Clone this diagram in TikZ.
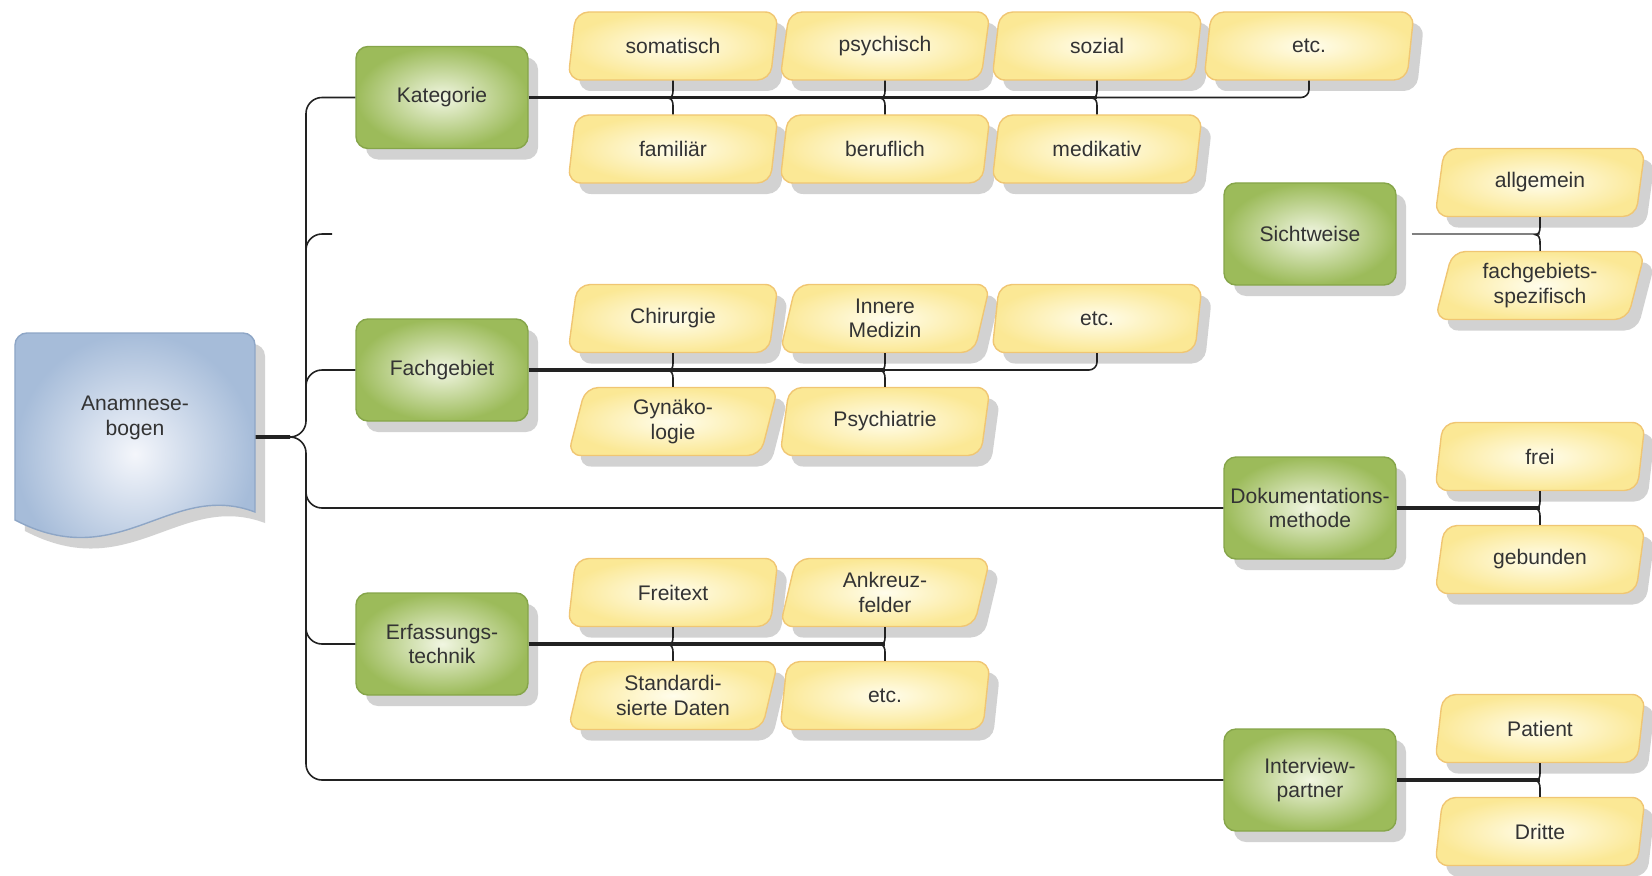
\documentclass[tikz,border=0pt]{standalone}
\usepackage{fontspec}
\setmainfont{Liberation Sans}
\usetikzlibrary{shapes.geometric,shadows}
\definecolor{gruen}{HTML}{9CBB5A}
\definecolor{gruenhell}{HTML}{F1F6E2}
\definecolor{gruenrand}{HTML}{86A54A}
\definecolor{gelb}{HTML}{FBE895}
\definecolor{gelbhell}{HTML}{FFFDEC}
\definecolor{gelbrand}{HTML}{F0C673}
\definecolor{blau}{HTML}{A6BCD9}
\definecolor{blauhell}{HTML}{F4F6FB}
\definecolor{blaurand}{HTML}{8EA6C6}
\definecolor{schrift}{HTML}{333333}
\definecolor{linie}{HTML}{222222}
\tikzset{
  schatten/.style={drop shadow={shadow xshift=1mm,shadow yshift=-1.1mm,fill=black!35,opacity=.5}},
  kasten/.style={rectangle,rounded corners=1.2mm,draw=gruenrand,inner color=gruenhell,outer color=gruen,
    minimum width=1.72cm,minimum height=1.02cm,align=center,inner sep=1pt,text=schrift,schatten},
  feld/.style={trapezium,trapezium left angle=71,trapezium right angle=109,trapezium stretches body,
    rounded corners=1.3mm,draw=gelbrand,inner color=gelbhell,outer color=gelb,
    minimum width=2.1cm,minimum height=0.68cm,align=center,inner sep=1pt,text=schrift,schatten},
  blatt/.style={draw=blaurand,inner color=blauhell,outer color=blau,schatten},
  dick/.style={line width=1pt,draw=linie},
  duenn/.style={line width=.45pt,draw=linie}
}
\begin{document}
\begin{tikzpicture}[x=1cm,y=-1cm,font=\fontsize{6}{6.9}\selectfont]
\useasboundingbox (0,0) rectangle (16.52,8.75);

% Anamnesebogen
\draw[blatt] (0.15,5.2) [rounded corners=1.2mm] -- (0.15,3.33) -- (2.55,3.33) -- (2.55,4.5)
  [sharp corners] -- (2.55,5.12) .. controls (1.7,4.8) and (1.2,5.75) .. (0.15,5.2) -- cycle;
\node[align=center,text=schrift,minimum width=2.4cm] (bogen) at (1.35,4.18) {Anamnese-\\bogen};

% Hauptaeste
\node[kasten] (kat) at (4.42,0.975) {Kategorie};
\node[kasten] (fach) at (4.42,3.70) {Fachgebiet};
\node[kasten] (erf) at (4.42,6.44) {Erfassungs-\\technik};
\node[kasten] (sicht) at (13.10,2.34) {Sichtweise};
\node[kasten] (dok) at (13.10,5.08) {Dokumentations-\\methode};
\node[kasten] (iv) at (13.10,7.80) {Interview-\\partner};

% Kategorie
\node[feld] (k1) at (6.73,0.46) {somatisch};
\node[feld] (k2) at (8.85,0.46) {psychisch};
\node[feld] (k3) at (10.97,0.46) {sozial};
\node[feld] (k4) at (13.09,0.46) {etc.};
\node[feld] (k5) at (6.73,1.49) {familiär};
\node[feld] (k6) at (8.85,1.49) {beruflich};
\node[feld] (k7) at (10.97,1.49) {medikativ};

% Fachgebiet
\node[feld] (f1) at (6.73,3.185) {Chirurgie};
\node[feld] (f2) at (8.85,3.185) {Innere\\Medizin};
\node[feld] (f3) at (10.97,3.185) {etc.};
\node[feld] (f4) at (6.73,4.215) {Gynäko-\\logie};
\node[feld] (f5) at (8.85,4.215) {Psychiatrie};

% Erfassungstechnik
\node[feld] (e1) at (6.73,5.925) {Freitext};
\node[feld] (e2) at (8.85,5.925) {Ankreuz-\\felder};
\node[feld] (e3) at (6.73,6.955) {Standardi-\\sierte Daten};
\node[feld] (e4) at (8.85,6.955) {etc.};

% rechte Spalte
\node[feld] (s1) at (15.40,1.825) {allgemein};
\node[feld] (s2) at (15.40,2.855) {fachgebiets-\\spezifisch};
\node[feld] (d1) at (15.40,4.565) {frei};
\node[feld] (d2) at (15.40,5.595) {gebunden};
\node[feld] (i1) at (15.40,7.285) {Patient};
\node[feld] (i2) at (15.40,8.315) {Dritte};

% Stamm
\coordinate (stamm) at (3.06,4.37);
\draw[dick] ([yshift=-1.9mm]bogen.east) -- (2.90,4.37) coordinate (knoten);
\draw[duenn,rounded corners=1.6mm] (knoten) -| (stamm |- kat.west) -- (kat.west);
\draw[duenn,rounded corners=1.6mm] (knoten) -| (stamm |- iv.west) -- (iv.west);
\draw[duenn,rounded corners=1.6mm] (3.06,2.6) |- (3.32,2.34) coordinate (stummel);
\draw[duenn,rounded corners=1.6mm] (3.06,3.9) |- (fach.west);
\draw[duenn,rounded corners=1.6mm] (3.06,4.8) |- (dok.west);
\draw[duenn,rounded corners=1.6mm] (3.06,6.2) |- (erf.west);

% Verbindungen zu den Feldern
\draw[dick] (kat.east) -- (kat.east -| k3.south);
\draw[duenn,rounded corners=.8mm] (kat.east -| k3.south) -| (k4.south);
\draw[dick] (fach.east) -- (fach.east -| f2.south);
\draw[duenn,rounded corners=.8mm] (fach.east -| f2.south) -| (f3.south);
\draw[dick] (erf.east) -- (erf.east -| e2.south);
\draw[duenn,draw=gray] ([xshift=1.5mm]sicht.east) -- (sicht.east -| s1.south);
\draw[dick] (dok.east) -- (dok.east -| d1.south);
\draw[dick] (iv.east) -- (iv.east -| i1.south);

% Klammern
\foreach \o/\u in {k1/k5,k2/k6,k3/k7,f1/f4,f2/f5,e1/e3,e2/e4,s1/s2,d1/d2,i1/i2}
  \draw[duenn] (\o.south) -- ++(0,.1) to[out=-90,in=0] ++(-.045,.075)
    to[out=0,in=90] ++(.045,.075) -- (\u.north);

\end{tikzpicture}
\end{document}
